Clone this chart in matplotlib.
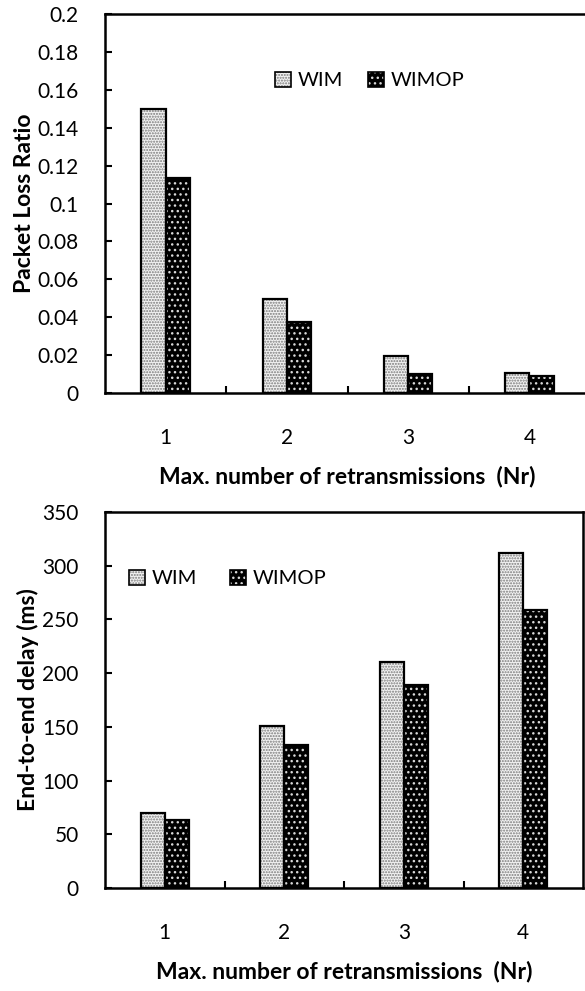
import numpy as np
import matplotlib
matplotlib.use("Agg")
import matplotlib.pyplot as plt
from matplotlib.patches import Patch
from matplotlib.ticker import MultipleLocator, FixedLocator

plt.rcParams["font.family"] = ["Lato", "DejaVu Sans"]
plt.rcParams["hatch.linewidth"] = 1.0

categories = ["1", "2", "3", "4"]
series_names = ["WIM", "WIMOP"]

loss_wim = [0.150, 0.0495, 0.0195, 0.0105]
loss_wimop = [0.1135, 0.0375, 0.0100, 0.0090]

delay_wim = [70, 151, 210, 312]
delay_wimop = [63, 133, 189, 259]

W = 585
H = 991
fig = plt.figure(figsize=(W / 100, H / 100), dpi=100)


def px_axes(left, top, right, bottom):
    return fig.add_axes([left / W, 1 - bottom / H, (right - left) / W, (bottom - top) / H])


def draw_panel(ax, wim, wimop, ylim, ystep, ylabel, legend_xy, colspace):
    x = np.arange(1, len(categories) + 1)
    width = 0.2
    styles = [
        dict(values=wim, face="#f2f2f2", dots="#7a7a7a", hatch="......"),
        dict(values=wimop, face="#000000", dots="#d8d8d8", hatch="..."),
    ]
    handles = []
    for i, st in enumerate(styles):
        pos = x + (i - 0.5) * width
        ax.bar(pos, st["values"], width, color=st["face"], edgecolor=st["dots"],
               hatch=st["hatch"], linewidth=0, zorder=2)
        ax.bar(pos, st["values"], width, fill=False, edgecolor="black",
               linewidth=1.6, zorder=3)
        h1 = Patch(facecolor=st["face"], edgecolor=st["dots"], hatch=st["hatch"], linewidth=0)
        h2 = Patch(fill=False, edgecolor="black", linewidth=1.2)
        handles.append((h1, h2))

    ax.set_xlim(0.5, len(categories) + 0.5)
    ax.set_ylim(*ylim)
    ax.yaxis.set_major_locator(MultipleLocator(ystep))
    ax.xaxis.set_major_locator(FixedLocator(x))
    ax.set_xticklabels(categories)
    ax.xaxis.set_minor_locator(FixedLocator(x[:-1] + 0.5))
    ax.tick_params(axis="x", which="major", length=0, pad=25, labelsize=15)
    ax.tick_params(axis="x", which="minor", direction="in", length=5, width=1.5)
    ax.tick_params(axis="y", direction="in", length=5, width=1.5, pad=19, labelsize=15)
    for s in ax.spines.values():
        s.set_linewidth(1.8)
    ax.set_ylabel(ylabel, fontsize=16.5, fontweight="bold", labelpad=2)
    ax.set_xlabel("Max. number of retransmissions  (Nr)", fontsize=16.5,
                  fontweight="bold", labelpad=13)
    leg = ax.legend(handles, series_names, loc="upper left", frameon=False, fontsize=14.5,
                    ncol=2, handlelength=0.8, handleheight=0.75, handletextpad=0.35,
                    columnspacing=colspace, borderpad=0, borderaxespad=0)
    leg.set_bbox_to_anchor((legend_xy[0] / W, 1 - legend_xy[1] / H), transform=fig.transFigure)


ax1 = px_axes(105, 14, 590, 393)
draw_panel(ax1, loss_wim, loss_wimop, (0, 0.2), 0.02, "Packet Loss Ratio",
           (275, 72), 1.2)
ax1.yaxis.set_major_formatter(plt.FuncFormatter(lambda v, p: "0" if v == 0 else f"{v:.2f}".rstrip("0")))

ax2 = px_axes(105, 512, 583, 888)
draw_panel(ax2, delay_wim, delay_wimop, (0, 350), 50, "End-to-end delay (ms)",
           (129, 570), 1.6)

fig.savefig("out.png", dpi=100)
